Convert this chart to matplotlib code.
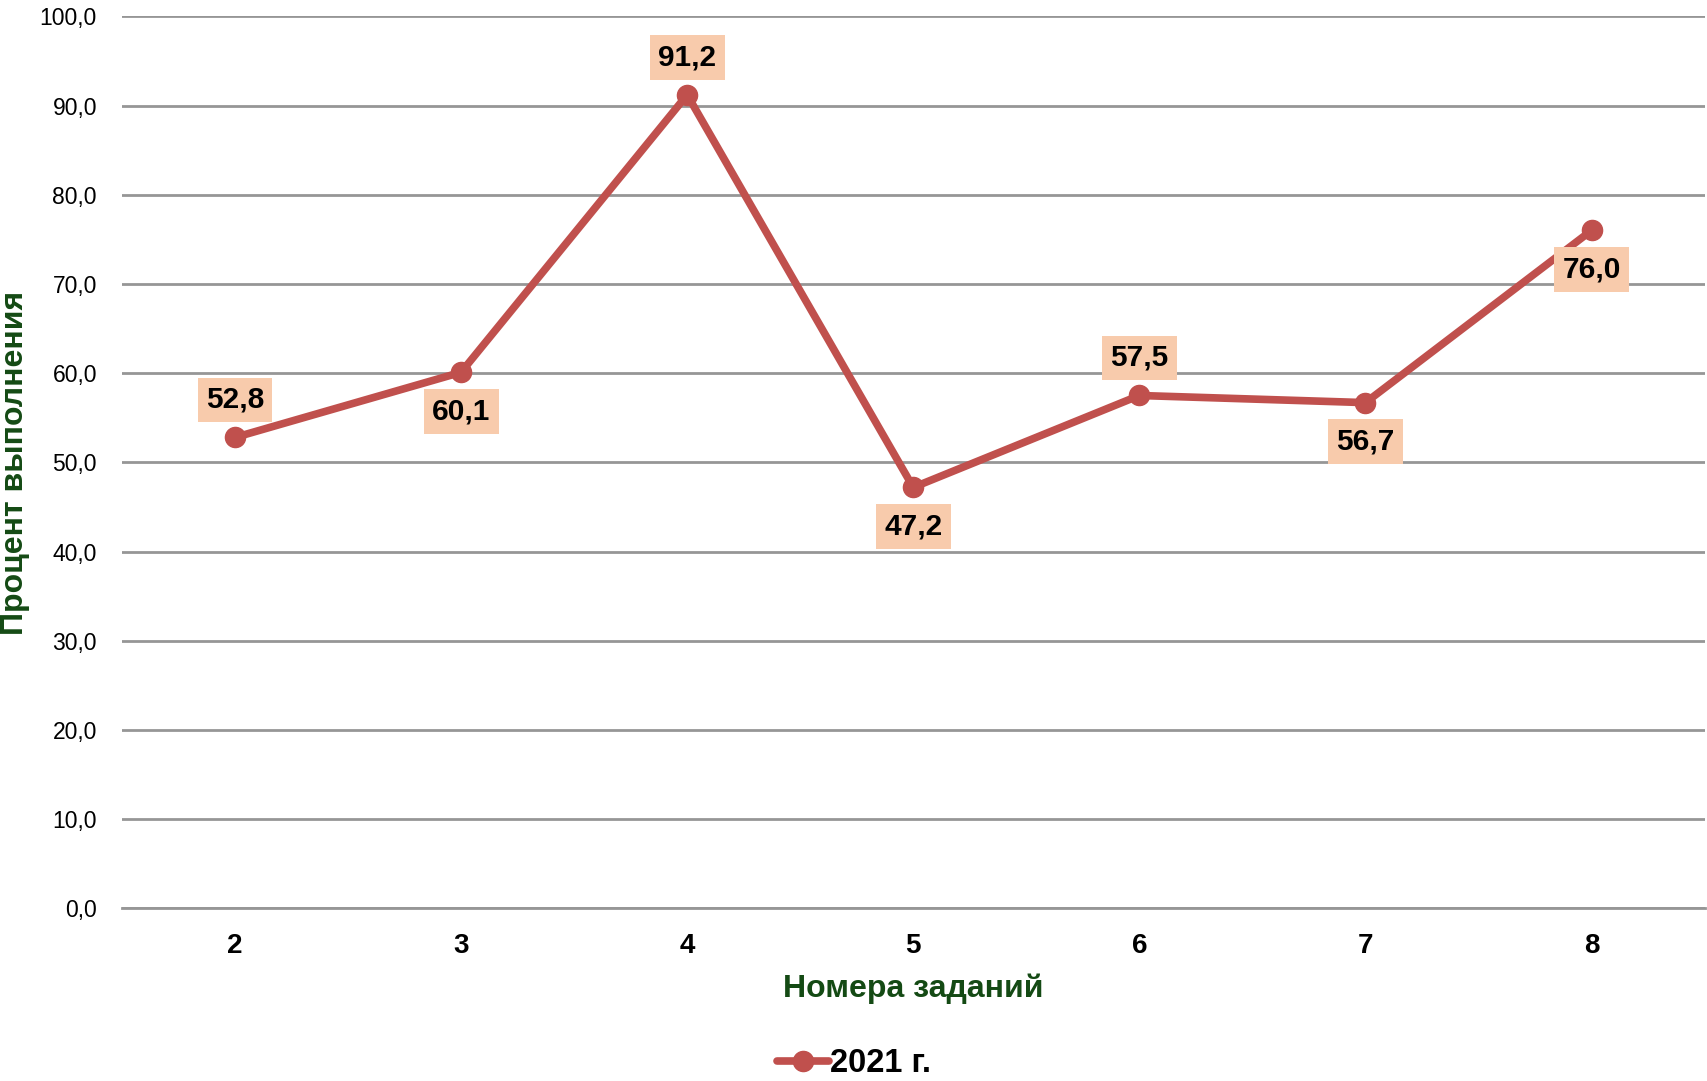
import matplotlib
matplotlib.use("Agg")
import matplotlib.pyplot as plt

categories = ["2", "3", "4", "5", "6", "7", "8"]
values = [52.8, 60.1, 91.2, 47.2, 57.5, 56.7, 76.0]
label_pos = ["above", "below", "above", "below", "above", "below", "below"]
series_name = "2021 г."
y_ticks = [0, 10, 20, 30, 40, 50, 60, 70, 80, 90, 100]

plt.rcParams['font.family'] = ['Liberation Sans', 'DejaVu Sans']

LINE = '#C0504D'
BOX = '#F8CBAC'
GREEN = '#144A14'
GRID = '#969696'

fig = plt.figure(figsize=(17.08, 10.81), dpi=100)
ax = fig.add_axes([0.0714, 0.1596, 0.9266, 0.8253])

x = list(range(len(categories)))
ax.plot(x, values, color=LINE, lw=5.5, marker='o', markersize=14.5,
        solid_capstyle='round', label=series_name, zorder=3)

for xi, v, pos in zip(x, values, label_pos):
    dy = 27 if pos == "above" else -28
    ax.annotate(f"{v:.1f}".replace('.', ','), (xi, v), xytext=(0, dy),
                textcoords='offset points', ha='center', va='center',
                fontsize=21.5, fontweight='bold', color='black', zorder=4,
                bbox=dict(boxstyle='square,pad=0.28', fc=BOX, ec='none'))

ax.set_xlim(-0.5, len(categories) - 0.5)
ax.set_ylim(0, 100)
ax.set_yticks(y_ticks)
ax.set_yticklabels([f"{t:.1f}".replace('.', ',') for t in y_ticks], fontsize=16.5)
ax.set_xticks(x)
ax.set_xticklabels(categories, fontsize=20, fontweight='bold')
ax.tick_params(axis='y', length=0, pad=18)
ax.tick_params(axis='x', length=0, pad=18)
ax.grid(axis='y', color=GRID, lw=2)
ax.set_axisbelow(True)
for s in ['top', 'right', 'left']:
    ax.spines[s].set_visible(False)
ax.spines['bottom'].set_color(GRID)
ax.spines['bottom'].set_linewidth(2)

ax.set_xlabel("Номера заданий", fontsize=23, fontweight='bold', color=GREEN, labelpad=10)
fig.text(0.009, 0.572, "Процент выполнения", rotation=90, ha='center', va='center',
         fontsize=23, fontweight='bold', color=GREEN)

leg = fig.legend(loc='center', bbox_to_anchor=(0.5, 0.016), frameon=False,
                 prop={'weight': 'bold', 'size': 23.5},
                 handlelength=1.6, handletextpad=0.05)

fig.savefig("out.png", dpi=100)
